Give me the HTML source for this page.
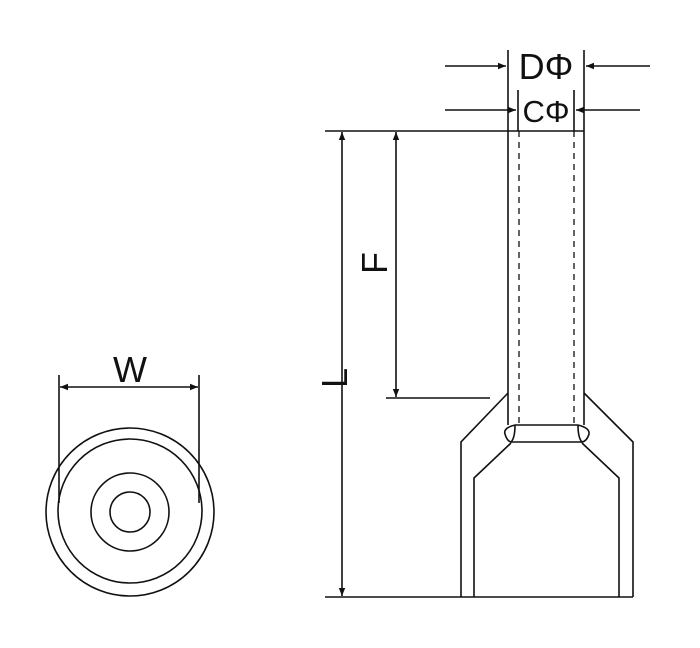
<!DOCTYPE html>
<html><head><style>html,body{margin:0;padding:0;background:#fff;}svg{display:block}</style></head>
<body>
<svg width="700" height="648" viewBox="0 0 700 648" xmlns="http://www.w3.org/2000/svg" font-family="Liberation Sans, sans-serif">
<defs>
<marker id="a" viewBox="0 0 10 10" refX="10" refY="5" markerWidth="10" markerHeight="8" orient="auto-start-reverse" markerUnits="userSpaceOnUse"><path d="M0,1 L10,5 L0,9 Z" fill="#111"/></marker>
</defs>
<g stroke="#111" stroke-width="1.6" fill="none">
<circle cx="130" cy="512" r="84"/>
<circle cx="130" cy="511" r="72"/>
<circle cx="130" cy="512" r="39"/>
<circle cx="130" cy="512" r="20"/>
<line x1="59" y1="375" x2="59" y2="503"/>
<line x1="199" y1="375" x2="199" y2="503"/>
<line x1="60" y1="387" x2="198" y2="387" marker-start="url(#a)" marker-end="url(#a)"/>
<line x1="325" y1="131" x2="584" y2="131"/>
<line x1="325" y1="597" x2="633" y2="597"/>
<line x1="386" y1="398" x2="490" y2="398"/>
<line x1="342" y1="132" x2="342" y2="596" marker-start="url(#a)" marker-end="url(#a)"/>
<line x1="396" y1="132" x2="396" y2="397" marker-start="url(#a)" marker-end="url(#a)"/>
<line x1="508" y1="50" x2="508" y2="131"/>
<line x1="584" y1="50" x2="584" y2="131"/>
<line x1="518" y1="90" x2="518" y2="131"/>
<line x1="574" y1="90" x2="574" y2="131"/>
<line x1="445" y1="66" x2="506" y2="66" marker-end="url(#a)"/>
<line x1="650" y1="66" x2="586" y2="66" marker-end="url(#a)"/>
<line x1="445" y1="110" x2="516" y2="110" marker-end="url(#a)"/>
<line x1="640" y1="110" x2="576" y2="110" marker-end="url(#a)"/>
<line x1="508" y1="131" x2="508" y2="425"/>
<line x1="584" y1="131" x2="584" y2="425"/>
<line x1="519" y1="131" x2="519" y2="425" stroke-dasharray="6,5" stroke-width="1.3"/>
<line x1="574" y1="131" x2="574" y2="425" stroke-dasharray="6,5" stroke-width="1.3"/>
<line x1="515" y1="425" x2="578" y2="425"/>
<line x1="511" y1="442" x2="582" y2="442"/>
<path d="M515,425 Q503,428 505,434 Q507,441 511,442 Q515,438 515,425"/>
<path d="M578,425 Q590,428 589,434 Q587,441 582,442 Q578,438 578,425"/>
<path d="M508,393 L461,442 L461,597"/>
<path d="M584,393 L633,442 L633,597"/>
<path d="M511,443 L474,478 L474,597"/>
<path d="M582,443 L619,478 L619,597"/>
</g>
<g fill="#111" font-size="36">
<text x="130" y="382" text-anchor="middle">W</text>
<text x="546" y="79" text-anchor="middle">DΦ</text>
<text x="546" y="122" text-anchor="middle" font-size="31">CΦ</text>
<text transform="translate(387,263) rotate(-90)" text-anchor="middle">F</text>
<text transform="translate(347,378) rotate(-90)" text-anchor="middle">L</text>
</g>
</svg>
</body></html>
